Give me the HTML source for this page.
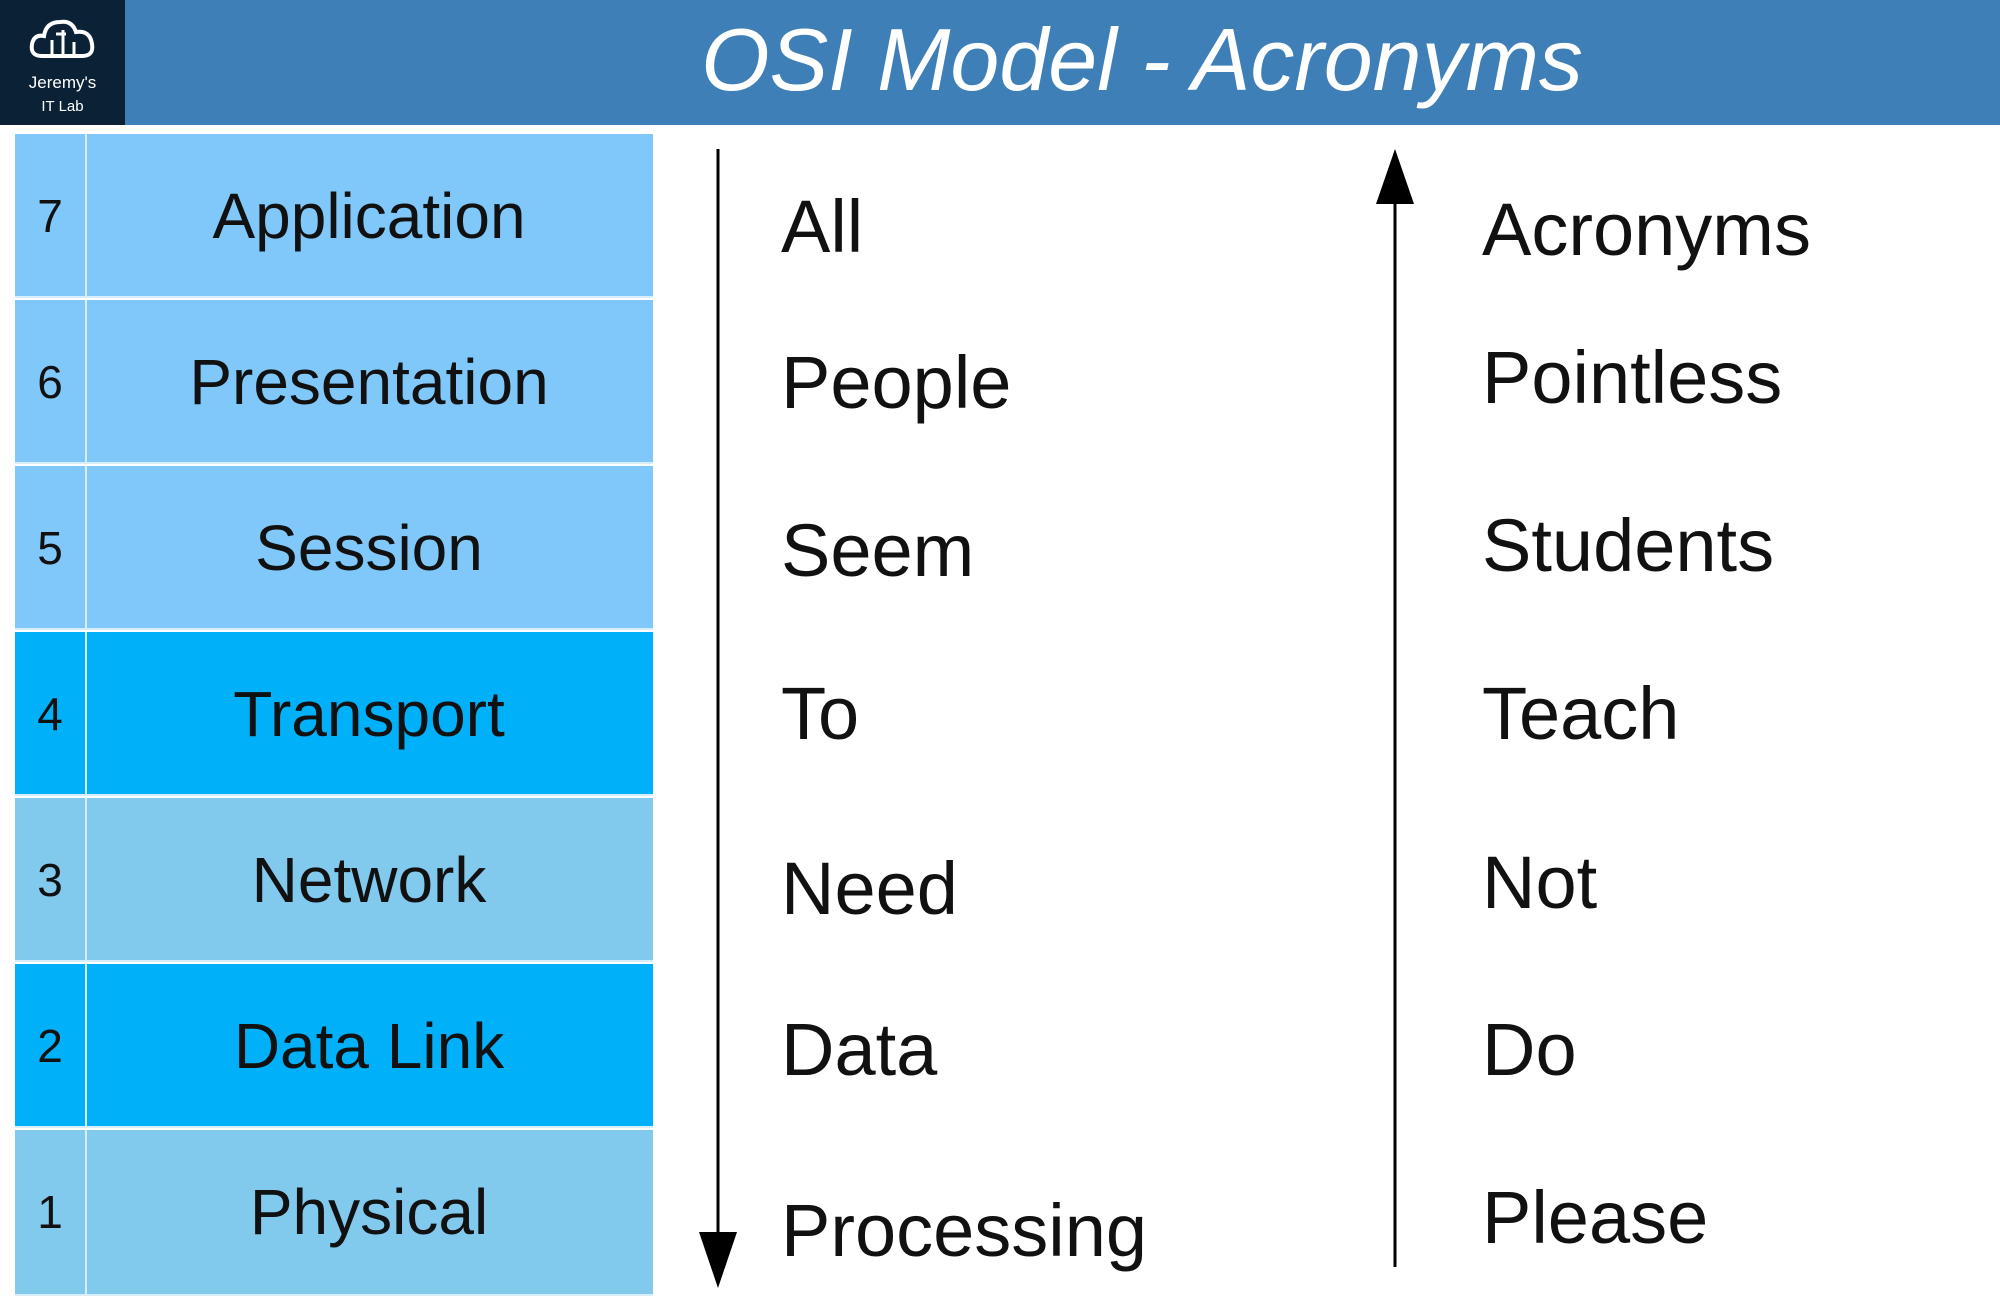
<!DOCTYPE html>
<html><head><meta charset="utf-8"><style>
*{margin:0;padding:0;box-sizing:border-box}
body{width:2000px;height:1305px;background:#fff;position:relative;overflow:hidden;font-family:"Liberation Sans",sans-serif;color:#111}
.hdr{position:absolute;left:0;top:0;width:2000px;height:125px;background:#3f7fb8}
.logo{position:absolute;left:0;top:0;width:125px;height:125px;background:#0b2236;color:#fff;text-align:center;font-size:17px;line-height:24px}
.title{position:absolute;left:0;top:0;width:2284px;height:125px;line-height:120px;text-align:center;color:#fff;font-size:88px;font-style:italic}
.row{position:absolute;left:15px;width:638px;height:164px;border-bottom:2px solid #d8eefc}
.num{position:absolute;left:0;top:0;width:72px;height:100%;border-right:2px solid #d8eefc;text-align:center;font-size:46px;line-height:164px}
.name{position:absolute;left:70px;right:0;top:0;height:100%;text-align:center;font-size:64px;line-height:164px}
.w{position:absolute;font-size:74px;line-height:1;transform:translateY(-50%)}
</style></head><body>
<div class="hdr"></div>
<div class="title">OSI Model - Acronyms</div>
<div class="logo">
<svg width="70" height="50" viewBox="0 0 70 50" style="margin-top:14px"><path d="M14 42 Q2 42 4 30 Q6 20 16 22 Q18 8 32 8 Q44 6 48 18 Q62 16 64 30 Q66 42 54 42 Z" fill="none" stroke="#fff" stroke-width="4"/><path d="M24 40V26M35 40V16M46 40V28M28 20h10" stroke="#fff" stroke-width="3" fill="none"/></svg>
<div>Jeremy's</div><div style="font-size:15px">IT Lab</div></div>

<div class="row" style="top:134px;background:#80c8fa"><div class="num">7</div><div class="name">Application</div></div>
<div class="row" style="top:300px;background:#80c8fa"><div class="num">6</div><div class="name">Presentation</div></div>
<div class="row" style="top:466px;background:#80c8fa"><div class="num">5</div><div class="name">Session</div></div>
<div class="row" style="top:632px;background:#00b0f8"><div class="num">4</div><div class="name">Transport</div></div>
<div class="row" style="top:798px;background:#82c9ee"><div class="num">3</div><div class="name">Network</div></div>
<div class="row" style="top:964px;background:#00b0f8"><div class="num">2</div><div class="name">Data Link</div></div>
<div class="row" style="top:1130px;background:#82c9ee;height:166px"><div class="num">1</div><div class="name">Physical</div></div>

<svg style="position:absolute;left:0;top:0" width="2000" height="1305">
<line x1="718" y1="149" x2="718" y2="1240" stroke="#000" stroke-width="3"/>
<polygon points="699,1232 737,1232 718,1288" fill="#000"/>
<line x1="1395" y1="1267" x2="1395" y2="195" stroke="#000" stroke-width="3"/>
<polygon points="1376,204 1414,204 1395,149" fill="#000"/>
</svg>

<div class="w" style="left:781px;top:227px">All</div>
<div class="w" style="left:781px;top:383px">People</div>
<div class="w" style="left:781px;top:551px">Seem</div>
<div class="w" style="left:781px;top:714px">To</div>
<div class="w" style="left:781px;top:889px">Need</div>
<div class="w" style="left:781px;top:1050px">Data</div>
<div class="w" style="left:781px;top:1231px">Processing</div>

<div class="w" style="left:1482px;top:230px">Acronyms</div>
<div class="w" style="left:1482px;top:378px">Pointless</div>
<div class="w" style="left:1482px;top:546px">Students</div>
<div class="w" style="left:1482px;top:714px">Teach</div>
<div class="w" style="left:1482px;top:883px">Not</div>
<div class="w" style="left:1482px;top:1050px">Do</div>
<div class="w" style="left:1482px;top:1218px">Please</div>
</body></html>
